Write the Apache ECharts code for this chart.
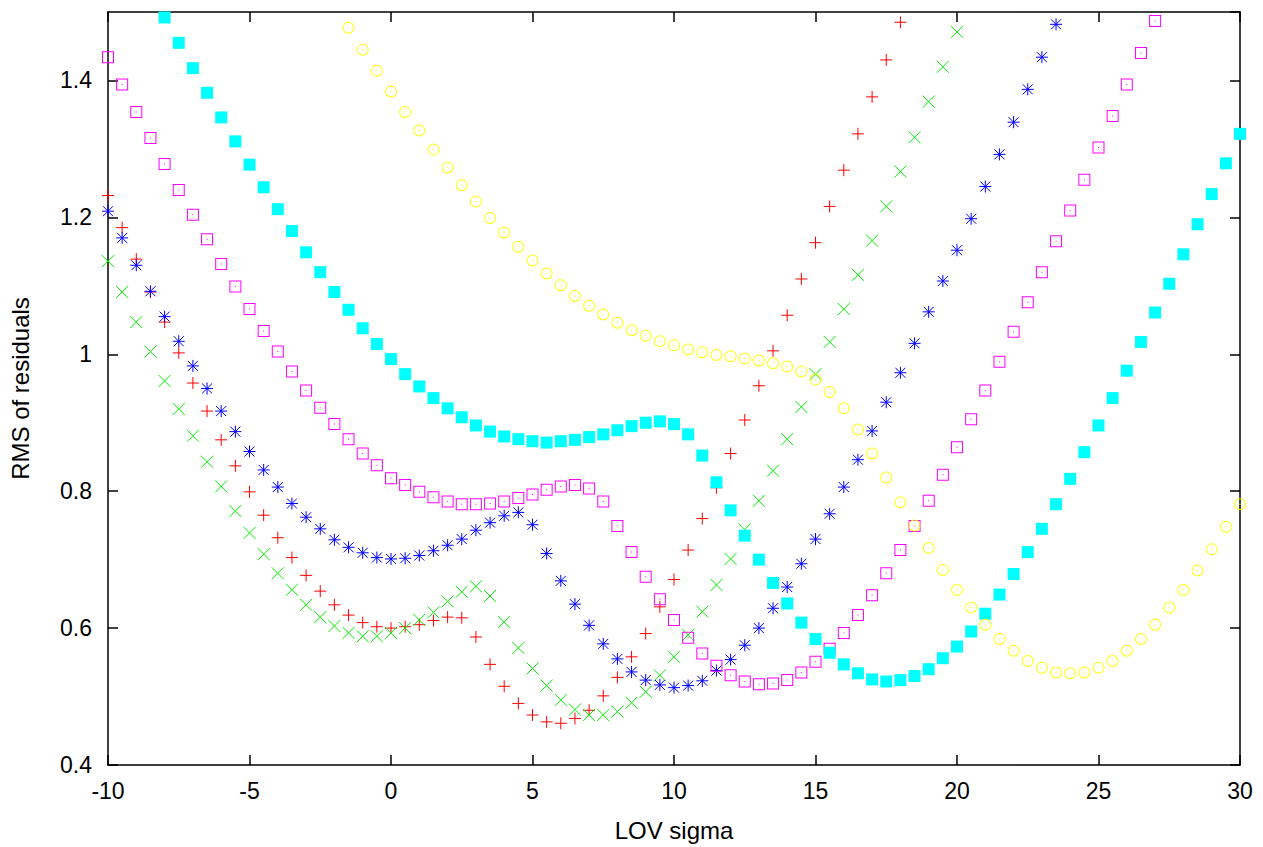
<!DOCTYPE html>
<html>
<head>
<meta charset="utf-8">
<title>RMS of residuals vs LOV sigma</title>
<script src="https://cdn.jsdelivr.net/npm/echarts@6/dist/echarts.min.js"></script>
<style>
  html, body { margin: 0; padding: 0; background: #fff; }
  #chart { width: 1263px; height: 847px; }
</style>
</head>
<body>
<div id="chart"></div>
<script>
// Sampling of LOV sigma: every series steps by 0.5 from its own first sigma.
const SIGMA_STEP = 0.5;

// Series 1 (red +), sigma -10 .. 18
const start1 = -10;
const rms1 = [1.232, 1.185, 1.139, 1.091, 1.047, 1.002, 0.958, 0.917, 0.875, 0.837,
  0.799, 0.765, 0.732, 0.703, 0.677, 0.654, 0.634, 0.619, 0.608, 0.602,
  0.600, 0.602, 0.605, 0.611, 0.616, 0.615, 0.587, 0.547, 0.515, 0.490,
  0.473, 0.463, 0.461, 0.468, 0.480, 0.501, 0.528, 0.558, 0.592, 0.631,
  0.671, 0.714, 0.760, 0.805, 0.855, 0.904, 0.954, 1.005, 1.057, 1.110,
  1.163, 1.216, 1.269, 1.322, 1.376, 1.430, 1.485];

// Series 2 (green x), sigma -10 .. 20
const start2 = -10;
const rms2 = [1.136, 1.091, 1.047, 1.004, 0.961, 0.920, 0.881, 0.843, 0.807, 0.771,
  0.739, 0.708, 0.680, 0.656, 0.634, 0.616, 0.603, 0.593, 0.588, 0.588,
  0.593, 0.600, 0.612, 0.623, 0.639, 0.653, 0.661, 0.647, 0.609, 0.571,
  0.541, 0.516, 0.495, 0.481, 0.473, 0.473, 0.478, 0.491, 0.507, 0.531,
  0.558, 0.590, 0.624, 0.663, 0.701, 0.744, 0.786, 0.830, 0.876, 0.923,
  0.971, 1.018, 1.066, 1.116, 1.166, 1.216, 1.267, 1.317, 1.369, 1.420,
  1.471];

// Series 3 (blue *), sigma -10 .. 23.5
const start3 = -10;
const rms3 = [1.209, 1.170, 1.130, 1.092, 1.055, 1.019, 0.983, 0.950, 0.917, 0.887,
  0.858, 0.831, 0.806, 0.782, 0.762, 0.745, 0.729, 0.718, 0.710, 0.703,
  0.701, 0.702, 0.706, 0.713, 0.721, 0.730, 0.743, 0.754, 0.764, 0.769,
  0.751, 0.709, 0.669, 0.635, 0.604, 0.577, 0.555, 0.536, 0.524, 0.517,
  0.513, 0.516, 0.523, 0.538, 0.554, 0.575, 0.600, 0.629, 0.660, 0.694,
  0.730, 0.767, 0.806, 0.846, 0.888, 0.930, 0.973, 1.016, 1.062, 1.107,
  1.152, 1.198, 1.245, 1.292, 1.339, 1.387, 1.434, 1.482];

// Series 4 (magenta open box), sigma -10 .. 27
const start4 = -10;
const rms4 = [1.434, 1.394, 1.354, 1.316, 1.278, 1.240, 1.204, 1.168, 1.132, 1.099,
  1.066, 1.034, 1.004, 0.975, 0.947, 0.922, 0.898, 0.876, 0.855, 0.838,
  0.819, 0.809, 0.799, 0.791, 0.785, 0.781, 0.781, 0.782, 0.785, 0.790,
  0.795, 0.802, 0.807, 0.809, 0.804, 0.785, 0.749, 0.711, 0.675, 0.642,
  0.612, 0.586, 0.563, 0.545, 0.531, 0.522, 0.518, 0.519, 0.524, 0.535,
  0.551, 0.570, 0.593, 0.619, 0.648, 0.680, 0.714, 0.749, 0.786, 0.824,
  0.864, 0.905, 0.947, 0.989, 1.033, 1.076, 1.120, 1.165, 1.210, 1.255,
  1.302, 1.348, 1.394, 1.440, 1.487];

// Series 5 (cyan filled box), sigma -8 .. 30
const start5 = -8;
const rms5 = [1.492, 1.455, 1.418, 1.382, 1.346, 1.311, 1.277, 1.244, 1.212, 1.180,
  1.149, 1.120, 1.091, 1.065, 1.038, 1.015, 0.993, 0.971, 0.953, 0.936,
  0.921, 0.908, 0.896, 0.887, 0.880, 0.876, 0.873, 0.871, 0.873, 0.875,
  0.879, 0.883, 0.889, 0.895, 0.900, 0.902, 0.898, 0.883, 0.852, 0.813,
  0.772, 0.735, 0.700, 0.666, 0.636, 0.608, 0.584, 0.564, 0.547, 0.534,
  0.525, 0.522, 0.524, 0.530, 0.540, 0.556, 0.573, 0.595, 0.621, 0.649,
  0.679, 0.711, 0.745, 0.781, 0.818, 0.857, 0.896, 0.936, 0.976, 1.018,
  1.061, 1.103, 1.146, 1.190, 1.234, 1.279, 1.322];

// Series 6 (yellow open circle), sigma -1.5 .. 30
const start6 = -1.5;
const rms6 = [1.477, 1.445, 1.414, 1.384, 1.354, 1.327, 1.299, 1.273, 1.247, 1.223,
  1.199, 1.178, 1.157, 1.137, 1.118, 1.101, 1.085, 1.071, 1.058, 1.046,
  1.035, 1.027, 1.019, 1.013, 1.007, 1.003, 0.999, 0.997, 0.994, 0.991,
  0.987, 0.982, 0.975, 0.963, 0.945, 0.921, 0.890, 0.855, 0.820, 0.784,
  0.750, 0.717, 0.685, 0.656, 0.630, 0.605, 0.584, 0.567, 0.552, 0.542,
  0.535, 0.534, 0.535, 0.542, 0.552, 0.567, 0.584, 0.605, 0.630, 0.656,
  0.684, 0.715, 0.748, 0.781];

// Axis tick values
const xTicks = [-10, -5, 0, 5, 10, 15, 20, 25, 30];
const yTicks = [0.4, 0.6, 0.8, 1.0, 1.2, 1.4];

function pairs(start, values) {
  return values.map((v, i) => [start + i * SIGMA_STEP, v]);
}

const FONT = 'Liberation Sans, Arial, Helvetica, sans-serif';

// Point glyphs on a 12x12 box, in the style of classic plotting terminals.
// Stroked glyphs: plus, cross, star. Filled glyphs: open box / open circle
// (ring with a centre dot), solid box.
const GLYPHS = {
  plus:   { path: 'path://M0,6H12M6,0V12', stroked: true },
  cross:  { path: 'path://M0,0L12,12M12,0L0,12', stroked: true },
  star:   { path: 'path://M0,6H12M6,0V12M1,1L11,11M11,1L1,11', stroked: true },
  box:    { path: 'path://M0,0H12V12H0Z M1,1V11H11V1Z M5.5,5.5H6.5V6.5H5.5Z', stroked: false },
  fbox:   { path: 'rect', stroked: false },
  circle: { path: 'path://M0,6A6,6 0 1 1 12,6A6,6 0 1 1 0,6Z M1,6A5,5 0 1 0 11,6A5,5 0 1 0 1,6Z M5.5,5.5H6.5V6.5H5.5Z', stroked: false }
};

const seriesDefs = [
  { start: start1, values: rms1, kind: 'plus',   color: '#ff0000' },
  { start: start2, values: rms2, kind: 'cross',  color: '#00f000' },
  { start: start3, values: rms3, kind: 'star',   color: '#0000ff' },
  { start: start4, values: rms4, kind: 'box',    color: '#ff00ff' },
  { start: start5, values: rms5, kind: 'fbox',   color: '#00ffff' },
  { start: start6, values: rms6, kind: 'circle', color: '#ffff00' }
];

const axisLineStyle = { color: '#000', width: 1.5 };
const tickStyle = { inside: true, length: 10, lineStyle: { color: '#000', width: 1.5 } };

const option = {
  backgroundColor: '#fff',
  animation: false,
  grid: { left: 107, right: 23, top: 12, bottom: 79, containLabel: false },
  xAxis: [
    {
      type: 'value', min: xTicks[0], max: xTicks[xTicks.length - 1], interval: 5,
      position: 'bottom',
      axisLine: { show: true, onZero: false, lineStyle: axisLineStyle },
      axisTick: tickStyle,
      splitLine: { show: false },
      axisLabel: { color: '#000', fontSize: 23, fontFamily: FONT, margin: 14 },
      name: 'LOV sigma', nameLocation: 'middle', nameGap: 53,
      nameTextStyle: { color: '#000', fontSize: 24, fontFamily: FONT }
    },
    {
      type: 'value', min: xTicks[0], max: xTicks[xTicks.length - 1], interval: 5,
      position: 'top',
      axisLine: { show: true, onZero: false, lineStyle: axisLineStyle },
      axisTick: tickStyle,
      splitLine: { show: false },
      axisLabel: { show: false }
    }
  ],
  yAxis: [
    {
      type: 'value', min: yTicks[0], max: 1.5, interval: 0.2,
      position: 'left',
      axisLine: { show: true, onZero: false, lineStyle: axisLineStyle },
      axisTick: tickStyle,
      splitLine: { show: false },
      axisLabel: {
        color: '#000', fontSize: 23, fontFamily: FONT, margin: 16, showMaxLabel: false,
        formatter: v => String(Math.round(v * 10) / 10)
      },
      name: 'RMS of residuals', nameLocation: 'middle', nameGap: 76, nameRotate: 90,
      nameTextStyle: { color: '#000', fontSize: 24, fontFamily: FONT }
    },
    {
      type: 'value', min: yTicks[0], max: 1.5, interval: 0.2,
      position: 'right',
      axisLine: { show: true, onZero: false, lineStyle: axisLineStyle },
      axisTick: tickStyle,
      splitLine: { show: false },
      axisLabel: { show: false }
    }
  ],
  series: seriesDefs.map(d => {
    const g = GLYPHS[d.kind];
    return {
      type: 'scatter',
      xAxisIndex: 0,
      yAxisIndex: 0,
      data: pairs(d.start, d.values),
      symbol: g.path,
      symbolSize: 12,
      clip: false,
      silent: true,
      itemStyle: g.stroked
        ? { color: 'rgba(0,0,0,0)', borderColor: d.color, borderWidth: 1, opacity: 1 }
        : { color: d.color, borderWidth: 0, opacity: 1 },
      emphasis: { disabled: true }
    };
  })
};

// SVG output keeps each glyph's colour self-contained
const chart = echarts.init(document.getElementById('chart'), null, { renderer: 'svg' });
chart.setOption(option);
</script>
</body>
</html>
